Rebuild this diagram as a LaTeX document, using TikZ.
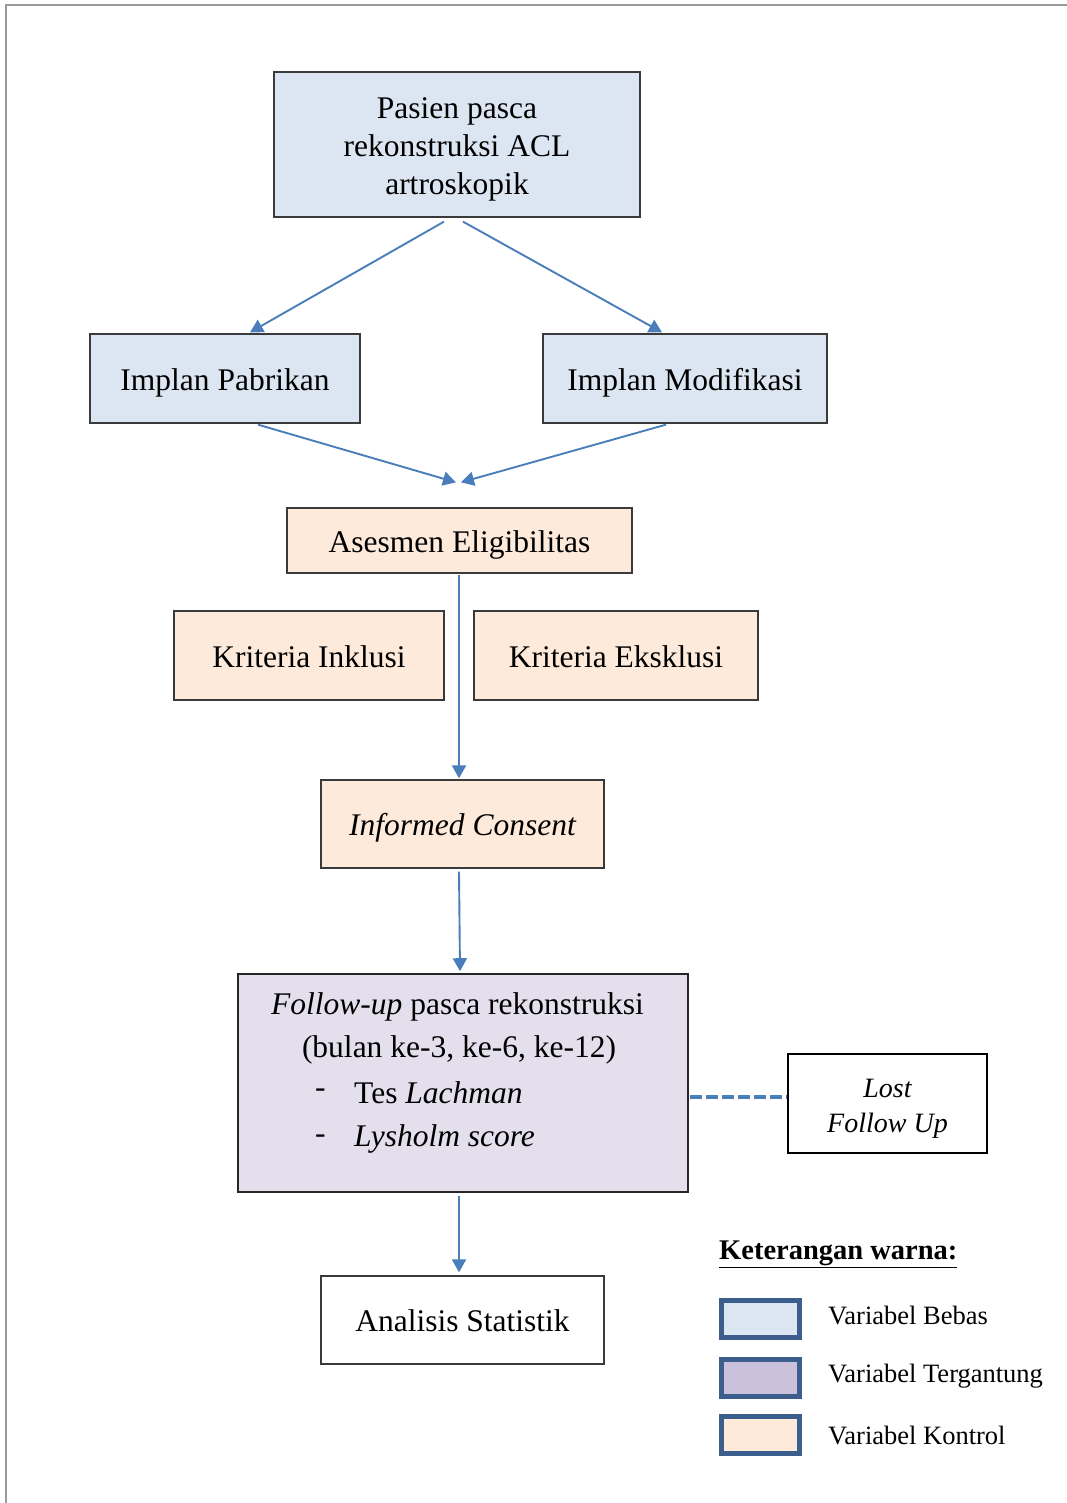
\documentclass[tikz,border=0pt]{standalone}
\usepackage{fontspec}
\setmainfont{Liberation Serif}
\usetikzlibrary{arrows.meta,calc}
\definecolor{lblue}{HTML}{DCE6F2}
\definecolor{lpeach}{HTML}{FDEADA}
\definecolor{llav}{HTML}{E4DFEC}
\definecolor{leglav}{HTML}{CCC1DA}
\definecolor{legborder}{HTML}{3B5E8C}
\definecolor{arrblue}{HTML}{4A7EBB}
\definecolor{boxborder}{HTML}{3A3A3A}
\newcommand{\lowtxt}[1]{\raisebox{-4pt}[\height][\depth]{\begin{tabular}{@{}c@{}}#1\end{tabular}}}
\tikzset{
  box/.style={draw=boxborder, line width=1.3pt, inner sep=0pt, align=center,
    font=\fontsize{31.5}{38}\selectfont},
  conn/.style={draw=arrblue, line width=1.9pt, -{Triangle[width=14pt,length=13pt]}},
  dashconn/.style={draw=arrblue, line width=3.2pt, dash pattern=on 12pt off 4pt},
  legsq/.style={draw=legborder, line width=5pt, minimum width=78pt, minimum height=37pt, inner sep=0pt},
  legtxt/.style={anchor=west, font=\fontsize{26.5}{30}\selectfont, inner sep=0pt},
  futxt/.style={font=\fontsize{31.5}{38}\selectfont, inner sep=0pt}
}
\begin{document}
\begin{tikzpicture}[x=1pt,y=-1pt]
\useasboundingbox (0,0) rectangle (1067,1503);
% frame
\draw[gray!80, line width=1.5pt] (6,1503) -- (6,5) -- (1067,5);

\node[box, fill=lblue, minimum width=366pt, minimum height=145pt] (top) at (457,144.5)
  {\lowtxt{Pasien pasca\\rekonstruksi ACL\\artroskopik}};
\node[box, fill=lblue, minimum width=270pt, minimum height=89pt] (pab) at (225,378.5) {\lowtxt{Implan Pabrikan}};
\node[box, fill=lblue, minimum width=284pt, minimum height=89pt] (mod) at (685,378.5) {\lowtxt{Implan Modifikasi}};
\node[box, fill=lpeach, minimum width=345pt, minimum height=65pt] (ases) at (459.5,540.5) {\lowtxt{Asesmen Eligibilitas}};
\node[box, fill=lpeach, minimum width=270pt, minimum height=89pt] (inkl) at (309,655.5) {\lowtxt{Kriteria Inklusi}};
\node[box, fill=lpeach, minimum width=284pt, minimum height=89pt] (eksk) at (616,655.5) {\lowtxt{Kriteria Eksklusi}};
\node[box, fill=lpeach, minimum width=283pt, minimum height=88pt] (inf) at (462.5,824) {\lowtxt{\itshape Informed Consent}};
\node[box, fill=llav, line width=1.6pt, draw=black!85, minimum width=450pt, minimum height=218pt] (fu) at (463,1083) {};
\node[futxt] (fu1) at (457.5,1007) {\itshape Follow-up\upshape{} pasca rekonstruksi};
\node[futxt] (fu2) at (459,1050) {(bulan ke-3, ke-6, ke-12)};
\node[futxt, anchor=west] (fu3d) at (315,1093) {-};
\node[futxt, anchor=west] (fu3) at (354,1093) {Tes \itshape Lachman};
\node[futxt, anchor=west] (fu4d) at (315,1139) {-};
\node[futxt, anchor=west] (fu4) at (354,1139) {\itshape Lysholm score};
\node[box, draw=black, line width=2pt, fill=white, minimum width=199pt, minimum height=99pt,
  font=\fontsize{28}{35}\selectfont\itshape] (lost) at (887.5,1103.5) {\lowtxt{Lost\\Follow Up}};
\node[box, fill=white, minimum width=283pt, minimum height=88pt] (ana) at (462.5,1320) {\lowtxt{Analisis Statistik}};

% connectors
\draw[conn] ($(top.south)+(-13,4)$) -- ($(pab.north)+(25,-1)$);
\draw[conn] ($(top.south)+(6,4)$) -- ($(mod.north)+(-23,-1)$);
\draw[conn] ($(pab.south)+(33,1)$) -- ($(ases.north)+(-3.5,-25)$);
\draw[conn] ($(mod.south)+(-19,1)$) -- ($(ases.north)+(1.5,-25)$);
\draw[conn] ($(ases.south)+(-0.5,1)$) -- ($(inf.north)+(-3.5,-1)$);
\draw[conn] ($(inf.south)+(-3.5,3)$) -- ($(fu.north)+(-3,-2)$);
\draw[conn] ($(fu.south)+(-4,3)$) -- ($(ana.north)+(-3.5,-3)$);
\draw[dashconn] ($(fu.east)+(1,14)$) -- ($(lost.west)+(0,-6.5)$);

% legend
\node[anchor=west, inner sep=0pt, font=\fontsize{28.5}{32}\selectfont\bfseries] (legh) at (719,1254)
  {\underline{Keterangan warna:}};
\node[legsq, fill=lblue] (lg1) at (760.5,1319) {};
\node[legsq, fill=leglav] (lg2) at (760.5,1378) {};
\node[legsq, fill=lpeach] (lg3) at (760.5,1435) {};
\node[legtxt] (lt1) at (828,1315) {Variabel Bebas};
\node[legtxt] (lt2) at (828,1376) {Variabel Tergantung};
\node[legtxt] (lt3) at (828,1435) {Variabel Kontrol};
\end{tikzpicture}
\end{document}
